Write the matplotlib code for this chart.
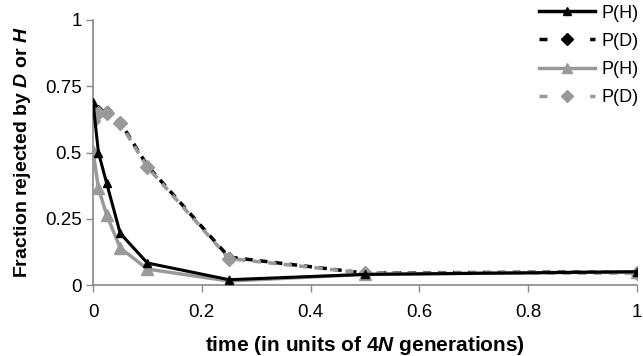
import matplotlib
matplotlib.use("Agg")
import matplotlib.pyplot as plt
from matplotlib.lines import Line2D

plt.rcParams['font.family'] = ['Liberation Sans', 'DejaVu Sans']
plt.rcParams['mathtext.fontset'] = 'custom'
plt.rcParams['mathtext.bf'] = 'Liberation Sans:bold:italic'
plt.rcParams['mathtext.it'] = 'Liberation Sans:italic'
plt.rcParams['mathtext.rm'] = 'Liberation Sans'

t = [0, 0.01, 0.025, 0.05, 0.1, 0.25, 0.5, 1.0]
h_black = [0.69, 0.50, 0.385, 0.195, 0.083, 0.02, 0.04, 0.05]
d_black = [0.635, 0.66, 0.655, 0.615, 0.45, 0.105, 0.045, 0.05]
h_gray = [0.505, 0.365, 0.265, 0.14, 0.06, 0.015, 0.04, 0.05]
d_gray = [0.62, 0.65, 0.65, 0.61, 0.445, 0.10, 0.045, 0.045]

xticks = [0, 0.2, 0.4, 0.6, 0.8, 1]
xticklabels = ['0', '0.2', '0.4', '0.6', '0.8', '1']
yticks = [0, 0.25, 0.5, 0.75, 1]
yticklabels = ['0', '0.25', '0.5', '0.75', '1']
legend_labels = ['P(H)', 'P(D)', 'P(H)', 'P(D)']

fig = plt.figure(figsize=(6.43, 3.56), dpi=100)
ax = fig.add_axes([93/643, 1-285/356, (637-93)/643, (285-20)/356])

gray = '#999999'
dash_main = (0, (2.3, 2.0))
ax.plot(t, d_black, color='black', lw=2.5, ls=dash_main, marker='D', ms=5,
        mfc='black', mec='black', zorder=2)
ax.plot(t, d_gray, color=gray, lw=2.6, ls=dash_main, marker='D', ms=7,
        mfc=gray, mec=gray, zorder=3)
ax.plot(t, h_gray, color=gray, lw=2.5, marker='^', ms=8.5,
        mfc=gray, mec=gray, zorder=4)
ax.plot(t, h_black, color='black', lw=2.2, marker='^', ms=6,
        mfc='black', mec='black', zorder=5)

ax.set_xlim(0, 1)
ax.set_ylim(0, 1)
ax.set_xticks(xticks)
ax.set_xticklabels(xticklabels)
ax.set_yticks(yticks)
ax.set_yticklabels(yticklabels)
for s in ['top', 'right']:
    ax.spines[s].set_visible(False)
for s in ['left', 'bottom']:
    ax.spines[s].set_color('#888888')
    ax.spines[s].set_linewidth(1.2)
ax.tick_params(axis='both', colors='#888888', labelcolor='black', labelsize=13.5,
               length=5, width=1, direction='out')
ax.tick_params(axis='x', pad=9)
ax.tick_params(axis='y', pad=3)

ax.set_xlabel(r'time (in units of 4$\mathbf{N}$ generations)', fontsize=15,
              fontweight='bold', labelpad=9)
ax.set_ylabel(r'Fraction rejected by $\mathbf{D}$ or $\mathbf{H}$', fontsize=14,
              fontweight='bold', labelpad=9)

dash_leg = (0, (2.3, 5.0))
handles = [
    Line2D([], [], color='black', lw=2.5, marker='^', ms=6, mfc='black', mec='black'),
    Line2D([], [], color='black', lw=2.5, ls=dash_leg, marker='D', ms=6, mfc='black', mec='black'),
    Line2D([], [], color=gray, lw=2.5, marker='^', ms=7, mfc=gray, mec=gray),
    Line2D([], [], color=gray, lw=2.5, ls=dash_leg, marker='D', ms=6, mfc=gray, mec=gray),
]
leg = fig.legend(handles, legend_labels,
                 loc='upper right', bbox_to_anchor=(1.0, 1.0), frameon=False,
                 fontsize=13, handlelength=3.1, handletextpad=0.35,
                 labelspacing=0.62, borderaxespad=0.0, borderpad=0.25)

fig.savefig('out.png', dpi=100)
